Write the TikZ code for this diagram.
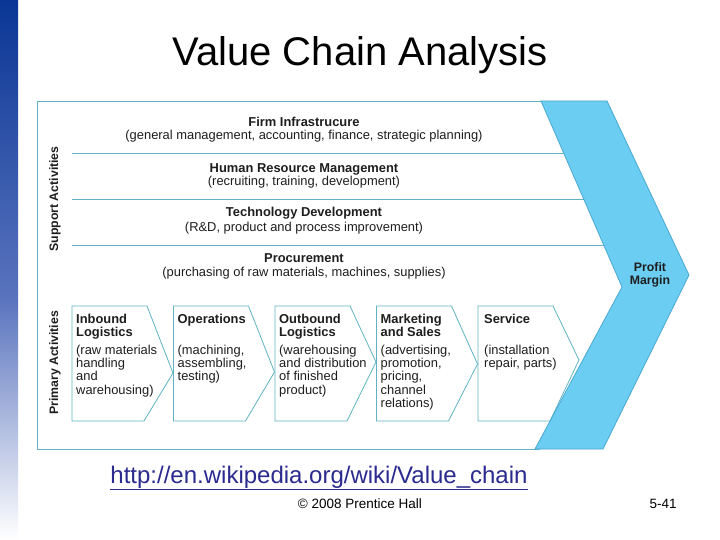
\documentclass[tikz,border=0pt]{standalone}
\usepackage{fontspec}
\setmainfont{Liberation Sans}
\definecolor{chevfill}{HTML}{6CCDF2}
\definecolor{chevline}{HTML}{4AA8D0}
\definecolor{vcline}{HTML}{5FB3C3}
\definecolor{vctext}{HTML}{1E1E1E}
\definecolor{linkcol}{HTML}{2A2A8F}
\definecolor{stripTop}{HTML}{0A3695}
\definecolor{stripMid}{HTML}{5A74BE}
\begin{document}
\begin{tikzpicture}[x=1bp,y=-1bp,
  vcbox/.style={draw=vcline,line width=0.8bp,fill=white},
  rowline/.style={draw=vcline,line width=0.8bp},
  ttl/.style={font=\fontsize{12.9bp}{13.4bp}\selectfont\bfseries,text=vctext,inner sep=0pt},
  sidettl/.style={font=\fontsize{12.3bp}{13.4bp}\selectfont\bfseries,text=vctext,inner sep=0pt},
  sub/.style={font=\fontsize{12.9bp}{13.4bp}\selectfont,text=vctext,inner sep=0pt},
  boxttl/.style={font=\fontsize{12.9bp}{13.4bp}\selectfont\bfseries,text=vctext,inner sep=0pt,anchor=base west},
  boxsub/.style={font=\fontsize{12.9bp}{13.4bp}\selectfont,text=vctext,inner sep=0pt,anchor=base west}
]
\useasboundingbox (0,0) rectangle (720,540);
\fill[white] (0,0) rectangle (720,540);
% left strip
\shade[top color=stripTop,bottom color=stripMid] (0,0) rectangle (18,300);
\shade[top color=stripMid,bottom color=white] (0,300) rectangle (18,540);

% title
\node[anchor=base,inner sep=0pt,font=\fontsize{40bp}{48bp}\selectfont] (title) at (360,66) {Value Chain Analysis};

% outer frame
\draw[rowline] (545,101) -- (37,101) -- (37,449) -- (540,449);
% support row lines (ending under the chevron's left edge)
\draw[rowline] (72,153) -- (566,153);
\draw[rowline] (72,199) -- (586,199);
\draw[rowline] (72,245) -- (606,245);

% support texts
\node[ttl,anchor=base] (fi) at (304,127) {Firm Infrastrucure};
\node[sub,anchor=base] (fis) at (304,140) {(general management, accounting, finance, strategic planning)};
\node[ttl,anchor=base] (hr) at (304,173) {Human Resource Management};
\node[sub,anchor=base] (hrs) at (304,186) {(recruiting, training, development)};
\node[ttl,anchor=base] (td) at (304,217) {Technology Development};
\node[sub,anchor=base] (tds) at (304,232) {(R\&D, product and process improvement)};
\node[ttl,anchor=base] (pr) at (304,263) {Procurement};
\node[sub,anchor=base] (prs) at (304,277) {(purchasing of raw materials, machines, supplies)};

% side labels
\node[sidettl,rotate=90] (sa) at (55,199) {Support Activities};
\node[sidettl,rotate=90] (pa) at (55,363) {Primary Activities};

% primary boxes
\foreach \l/\t in {72/373, 173.5/372, 275/362, 376.5/364, 478/360}{
  \draw[vcbox] (\l,306) -- (\l+75,306) -- (\l+101,\t) -- (\l+72,421) -- (\l,421) -- cycle;
}

\node[boxttl] (b1t) at (76,323) {\begin{tabular}[t]{@{}l@{}}Inbound\\Logistics\end{tabular}};
\node[boxsub] (b1s) at (76,354) {\begin{tabular}[t]{@{}l@{}}(raw materials\\handling\\and\\warehousing)\end{tabular}};
\node[boxttl] (b2t) at (177.5,323) {Operations};
\node[boxsub] (b2s) at (177.5,354) {\begin{tabular}[t]{@{}l@{}}(machining,\\assembling,\\testing)\end{tabular}};
\node[boxttl] (b3t) at (279,323) {\begin{tabular}[t]{@{}l@{}}Outbound\\Logistics\end{tabular}};
\node[boxsub] (b3s) at (279,354) {\begin{tabular}[t]{@{}l@{}}(warehousing\\and distribution\\of finished\\product)\end{tabular}};
\node[boxttl] (b4t) at (380.5,323) {\begin{tabular}[t]{@{}l@{}}Marketing\\and Sales\end{tabular}};
\node[boxsub] (b4s) at (380.5,354) {\begin{tabular}[t]{@{}l@{}}(advertising,\\promotion,\\pricing,\\channel\\relations)\end{tabular}};
\node[boxttl] (b5t) at (484,323) {Service};
\node[boxsub] (b5s) at (484,354) {\begin{tabular}[t]{@{}l@{}}(installation\\repair, parts)\end{tabular}};

% profit margin chevron
\draw[fill=chevfill,draw=chevline,line width=0.8bp,line join=miter]
  (541,101) -- (607,101) -- (689,275) -- (603,449) -- (535,449) -- (622,287) -- cycle;
\node[sidettl,anchor=base] (pm1) at (650,272) {Profit};
\node[sidettl,anchor=base] (pm2) at (650,285) {Margin};

% footer
\node[anchor=base,inner sep=0pt,text=linkcol,font=\fontsize{24bp}{28bp}\selectfont] (link) at (319,483) {\underline{http://en.wikipedia.org/wiki/Value\_chain}};
\node[anchor=base,inner sep=0pt,font=\fontsize{13.5bp}{16bp}\selectfont] (copy) at (360,508) {© 2008 Prentice Hall};
\node[anchor=base,inner sep=0pt,font=\fontsize{13.5bp}{16bp}\selectfont] (pg) at (663,508) {5-41};
\end{tikzpicture}
\end{document}
